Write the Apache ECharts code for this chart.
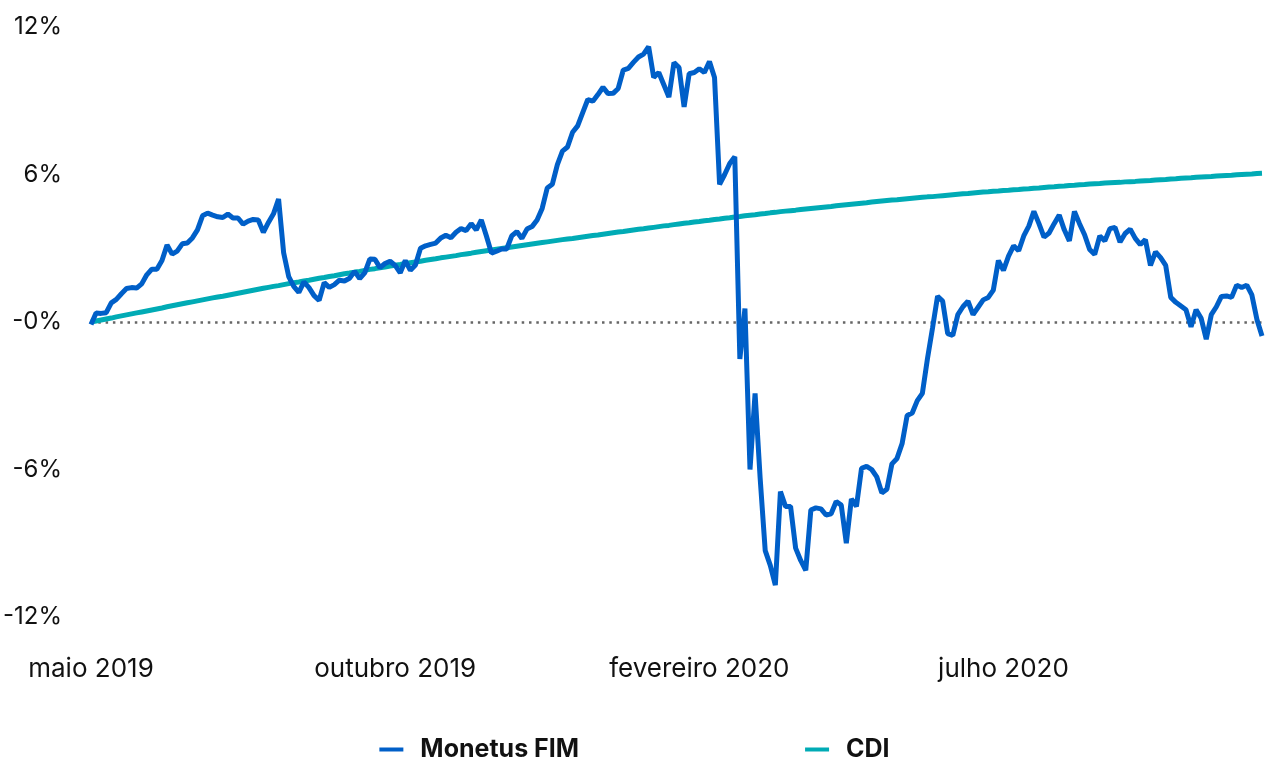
<!DOCTYPE html>
<html>
<head>
<meta charset="utf-8">
<script src="https://cdn.jsdelivr.net/npm/echarts@6/dist/echarts.min.js"></script>
<style>
html,body{margin:0;padding:0;background:#fff;}
#chart{width:1269px;height:760px;}
</style>
</head>
<body>
<div id="chart"></div>
<script>
const tickLabels = ['maio 2019', 'outubro 2019', 'fevereiro 2020', 'julho 2020'];
const seriesNames = ['Monetus FIM', 'CDI'];

const monetus = [
  -0.10, 0.37, 0.35, 0.38, 0.78, 0.92, 1.15, 1.36, 1.40, 1.38,
  1.55, 1.92, 2.15, 2.15, 2.50, 3.13, 2.76, 2.88, 3.18, 3.21,
  3.42, 3.75, 4.32, 4.43, 4.35, 4.28, 4.25, 4.39, 4.23, 4.23,
  3.98, 4.10, 4.17, 4.15, 3.65, 4.05, 4.40, 5.00, 2.82, 1.85,
  1.45, 1.20, 1.63, 1.40, 1.07, 0.88, 1.60, 1.41, 1.52, 1.70,
  1.67, 1.78, 2.06, 1.77, 2.00, 2.56, 2.55, 2.21, 2.38, 2.47,
  2.30, 2.00, 2.50, 2.10, 2.32, 3.00, 3.10, 3.16, 3.21, 3.42,
  3.53, 3.43, 3.65, 3.80, 3.72, 4.00, 3.75, 4.15, 3.50, 2.80,
  2.88, 2.97, 2.97, 3.50, 3.68, 3.40, 3.78, 3.88, 4.15, 4.62,
  5.45, 5.60, 6.40, 6.95, 7.12, 7.72, 7.98, 8.52, 9.05, 8.98,
  9.25, 9.55, 9.29, 9.30, 9.50, 10.25, 10.32, 10.56, 10.78, 10.90,
  11.20, 9.95, 10.15, 9.65, 9.15, 10.55, 10.35, 8.75, 10.10, 10.15,
  10.30, 10.15, 10.60, 9.95, 5.60, 6.00, 6.45, 6.72, -1.50, 0.55,
  -6.00, -2.90, -6.35, -9.30, -9.90, -10.70, -6.90, -7.50, -7.50, -9.20,
  -9.70, -10.10, -7.65, -7.56, -7.60, -7.85, -7.80, -7.30, -7.45, -9.00,
  -7.20, -7.50, -5.95, -5.87, -6.00, -6.30, -6.95, -6.80, -5.77, -5.55,
  -4.95, -3.80, -3.70, -3.20, -2.90, -1.50, -0.25, 1.05, 0.85, -0.47,
  -0.55, 0.30, 0.62, 0.85, 0.30, 0.60, 0.90, 1.00, 1.30, 2.50,
  2.10, 2.68, 3.10, 2.90, 3.50, 3.90, 4.50, 4.00, 3.45, 3.62,
  4.00, 4.35, 3.75, 3.30, 4.50, 4.00, 3.55, 2.95, 2.75, 3.50,
  3.30, 3.80, 3.85, 3.25, 3.60, 3.78, 3.40, 3.15, 3.35, 2.30,
  2.85, 2.62, 2.30, 1.00, 0.80, 0.65, 0.50, -0.20, 0.50, 0.15,
  -0.70, 0.30, 0.62, 1.04, 1.06, 1.00, 1.50, 1.40, 1.50, 1.10,
  0.10, -0.57
];

const cdi = [
  0.00, 0.04, 0.08, 0.12, 0.16, 0.21, 0.25, 0.29, 0.33, 0.37,
  0.41, 0.45, 0.49, 0.53, 0.57, 0.62, 0.66, 0.70, 0.74, 0.78,
  0.82, 0.86, 0.90, 0.94, 0.98, 1.02, 1.05, 1.09, 1.13, 1.17,
  1.21, 1.25, 1.29, 1.33, 1.37, 1.41, 1.45, 1.48, 1.52, 1.56,
  1.60, 1.63, 1.67, 1.70, 1.74, 1.78, 1.81, 1.85, 1.88, 1.92,
  1.96, 1.99, 2.03, 2.06, 2.10, 2.14, 2.17, 2.21, 2.24, 2.28,
  2.31, 2.34, 2.38, 2.41, 2.44, 2.47, 2.51, 2.54, 2.57, 2.61,
  2.64, 2.67, 2.70, 2.74, 2.77, 2.80, 2.84, 2.87, 2.90, 2.93,
  2.96, 2.99, 3.02, 3.05, 3.08, 3.11, 3.14, 3.17, 3.20, 3.23,
  3.26, 3.29, 3.32, 3.35, 3.38, 3.40, 3.43, 3.46, 3.49, 3.52,
  3.54, 3.57, 3.60, 3.63, 3.66, 3.68, 3.71, 3.74, 3.77, 3.79,
  3.82, 3.85, 3.88, 3.91, 3.93, 3.96, 3.99, 4.02, 4.04, 4.07,
  4.09, 4.12, 4.14, 4.17, 4.19, 4.22, 4.24, 4.27, 4.29, 4.32,
  4.34, 4.36, 4.39, 4.41, 4.44, 4.46, 4.49, 4.51, 4.53, 4.55,
  4.58, 4.60, 4.62, 4.64, 4.66, 4.68, 4.70, 4.73, 4.75, 4.77,
  4.79, 4.81, 4.83, 4.85, 4.88, 4.90, 4.92, 4.94, 4.96, 4.97,
  4.99, 5.01, 5.03, 5.05, 5.07, 5.09, 5.10, 5.12, 5.14, 5.16,
  5.18, 5.20, 5.22, 5.23, 5.25, 5.27, 5.29, 5.30, 5.32, 5.33,
  5.35, 5.36, 5.38, 5.39, 5.41, 5.42, 5.44, 5.45, 5.47, 5.49,
  5.50, 5.52, 5.53, 5.55, 5.56, 5.58, 5.59, 5.61, 5.62, 5.63,
  5.65, 5.66, 5.67, 5.68, 5.70, 5.71, 5.72, 5.74, 5.75, 5.76,
  5.78, 5.79, 5.80, 5.82, 5.83, 5.85, 5.86, 5.87, 5.89, 5.90,
  5.91, 5.92, 5.94, 5.95, 5.96, 5.97, 5.99, 6.00, 6.01, 6.02,
  6.04, 6.05
];

// category per observation (index); labels shown every 60 observations
const categories = monetus.map((_, i) => String(i));
const labelEvery = 60;

const chart = echarts.init(document.getElementById('chart'), null, {renderer: 'canvas'});
const font = 'Inter, "Noto Sans", sans-serif';

chart.setOption({
  animation: false,
  backgroundColor: '#ffffff',
  grid: {left: 91, right: 7, top: 27, bottom: 143},
  legend: {
    data: seriesNames,
    top: 732,
    left: 'center',
    icon: 'rect',
    itemWidth: 24,
    itemHeight: 4,
    itemGap: 226,
    textStyle: {fontFamily: font, fontSize: 25, fontWeight: 'bold', color: '#111', padding: [0, 0, 0, 12]}
  },
  xAxis: {
    type: 'category',
    data: categories,
    boundaryGap: false,
    axisLine: {show: false},
    axisTick: {show: false},
    splitLine: {show: false},
    axisLabel: {
      interval: labelEvery - 1,
      margin: 39,
      fontFamily: font,
      fontSize: 26,
      color: '#111',
      formatter: function (v, idx) {
        return idx % labelEvery === 0 ? (tickLabels[idx / labelEvery] || '') : '';
      }
    }
  },
  yAxis: {
    type: 'value',
    min: -12,
    max: 12,
    interval: 6,
    axisLine: {show: false},
    axisTick: {show: false},
    splitLine: {show: false},
    axisLabel: {
      margin: 29,
      fontFamily: font,
      fontSize: 24,
      color: '#111',
      formatter: function (v) { return (v === 0 ? '-0' : String(v)) + '%'; }
    }
  },
  series: [
    {
      name: seriesNames[0],
      type: 'line',
      data: monetus,
      showSymbol: false,
      symbol: 'none',
      z: 3,
      color: '#005fc8',
      lineStyle: {width: 5, color: '#005fc8'},
      markLine: {
        silent: true,
        symbol: 'none',
        label: {show: false},
        lineStyle: {color: '#666', width: 2.5, type: [2.5, 4.8]},
        data: [{yAxis: 0}],
        z: 1
      }
    },
    {
      name: seriesNames[1],
      type: 'line',
      data: cdi,
      showSymbol: false,
      symbol: 'none',
      z: 2,
      color: '#00abb5',
      lineStyle: {width: 5, color: '#00abb5'}
    }
  ]
});
</script>
</body>
</html>
